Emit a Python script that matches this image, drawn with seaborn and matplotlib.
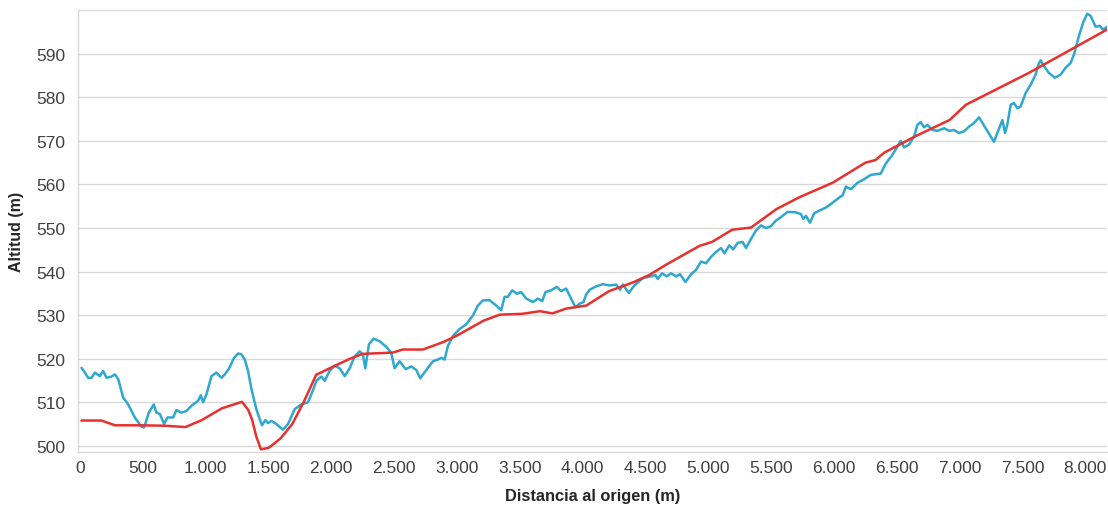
import matplotlib
matplotlib.use("Agg")
import matplotlib.pyplot as plt
import matplotlib.ticker as mticker
import seaborn as sns
import pandas as pd

# terreno (azul)
dist_terreno = [13, 40, 66, 93, 119, 159, 185, 212, 252, 278, 305, 344, 384, 437, 490, 511,
                548, 588, 609, 636, 670, 697, 742, 768, 808, 848, 888, 940, 962, 980, 1007,
                1047, 1086, 1126, 1153, 1184, 1227, 1259, 1285, 1312, 1338, 1365, 1404, 1431,
                1449, 1476, 1497, 1524, 1563, 1616, 1656, 1709, 1762, 1815, 1847, 1881, 1921,
                1948, 1987, 2027, 2067, 2107, 2147, 2186, 2226, 2252, 2271, 2300, 2337, 2385,
                2438, 2478, 2504, 2544, 2592, 2637, 2677, 2708, 2756, 2809, 2849, 2875, 2902,
                2928, 2968, 3021, 3074, 3127, 3167, 3207, 3260, 3313, 3352, 3379, 3405, 3440,
                3477, 3511, 3551, 3604, 3644, 3678, 3705, 3750, 3795, 3829, 3869, 3901, 3943,
                3975, 4007, 4028, 4055, 4107, 4161, 4214, 4267, 4298, 4320, 4367, 4412, 4479,
                4545, 4579, 4598, 4632, 4669, 4704, 4744, 4775, 4818, 4863, 4903, 4942, 4982,
                5022, 5062, 5101, 5128, 5167, 5199, 5234, 5273, 5300, 5340, 5379, 5419, 5459,
                5498, 5538, 5578, 5631, 5697, 5737, 5756, 5777, 5809, 5843, 5883, 5936, 5989,
                6042, 6069, 6095, 6135, 6188, 6240, 6293, 6372, 6412, 6465, 6505, 6531, 6558,
                6598, 6637, 6664, 6690, 6717, 6743, 6783, 6823, 6876, 6916, 6955, 6995, 7035,
                7075, 7114, 7154, 7207, 7247, 7273, 7300, 7340, 7361, 7379, 7406, 7432, 7459,
                7485, 7525, 7565, 7604, 7626, 7644, 7671, 7710, 7758, 7803, 7843, 7883, 7909,
                7949, 7983, 8015, 8042, 8082, 8113, 8140, 8175]
alt_terreno = [517.9, 516.8, 515.6, 515.6, 516.8, 516.0, 517.2, 515.6, 515.9, 516.4, 515.3,
               511.1, 509.5, 506.5, 504.4, 504.2, 507.6, 509.5, 507.6, 507.3, 505.0, 506.5,
               506.5, 508.2, 507.6, 508.0, 509.2, 510.3, 511.6, 510.0, 511.8, 516.0, 516.8,
               515.6, 516.4, 517.6, 520.2, 521.2, 521.0, 519.8, 517.2, 513.0, 508.4, 506.1,
               504.7, 505.9, 505.2, 505.7, 505.0, 503.7, 505.0, 508.4, 509.5, 510.0, 512.2,
               514.9, 515.9, 514.9, 517.2, 518.4, 517.8, 516.0, 517.8, 520.5, 521.7, 520.9,
               517.8, 523.3, 524.6, 524.0, 522.7, 521.3, 517.8, 519.4, 517.6, 518.2, 517.4,
               515.5, 517.4, 519.4, 519.8, 520.2, 519.8, 522.9, 525.2, 526.8, 527.9, 529.9,
               532.2, 533.4, 533.4, 532.2, 531.1, 534.2, 534.2, 535.7, 534.9, 535.3, 533.8,
               533.0, 533.8, 533.2, 535.3, 535.7, 536.5, 535.5, 536.1, 534.2, 531.8, 532.6,
               533.0, 534.7, 535.8, 536.6, 537.1, 536.8, 537.0, 535.8, 537.0, 535.1, 536.8,
               538.5, 538.9, 539.2, 538.3, 539.6, 538.9, 539.6, 538.9, 539.4, 537.6, 539.4,
               540.4, 542.3, 541.9, 543.4, 544.5, 545.4, 544.2, 546.0, 545.1, 546.6, 546.8,
               545.4, 547.5, 549.4, 550.6, 550.0, 550.4, 551.7, 552.5, 553.7, 553.6, 553.2,
               552.1, 552.8, 551.2, 553.4, 554.0, 554.7, 555.8, 557.0, 557.5, 559.5, 558.9,
               560.4, 561.2, 562.2, 562.5, 564.8, 566.8, 568.7, 570.0, 568.5, 569.2, 571.0,
               573.7, 574.3, 573.1, 573.7, 572.5, 572.3, 572.9, 572.3, 572.5, 571.8, 572.2,
               573.3, 574.1, 575.4, 572.9, 571.0, 569.8, 571.8, 574.8, 571.8, 573.7, 578.3,
               578.7, 577.5, 577.9, 581.0, 582.9, 585.2, 587.5, 588.5, 587.2, 585.6, 584.5,
               585.2, 586.8, 587.9, 589.8, 594.1, 597.2, 599.2, 598.7, 596.2, 596.4, 595.6,
               596.2]

# rasante (rojo)
dist_rasante = [13, 170, 280, 490, 680, 840, 970, 1130, 1290, 1340, 1370, 1405, 1440, 1500,
                1550, 1600, 1690, 1780, 1880, 2010, 2150, 2250, 2490, 2570, 2730, 2890, 3000,
                3210, 3340, 3520, 3660, 3760, 3870, 4030, 4210, 4400, 4530, 4660, 4930, 5030,
                5190, 5340, 5540, 5720, 5990, 6120, 6250, 6330, 6400, 6650, 6920, 7050, 7550,
                8175]
alt_rasante = [505.8, 505.8, 504.7, 504.7, 504.6, 504.3, 505.9, 508.6, 510.1, 508.2, 506.0,
               502.0, 499.2, 499.5, 500.6, 501.8, 505.0, 510.0, 516.3, 518.1, 520.0, 521.1,
               521.4, 522.1, 522.1, 523.8, 525.3, 528.7, 530.1, 530.3, 530.9, 530.4, 531.5,
               532.2, 535.5, 537.5, 539.2, 541.5, 545.9, 546.8, 549.6, 550.1, 554.3, 557.0,
               560.4, 562.7, 565.0, 565.6, 567.3, 571.1, 574.8, 578.3, 585.6, 595.6]

df_terreno = pd.DataFrame({'dist': dist_terreno, 'alt': alt_terreno})
df_rasante = pd.DataFrame({'dist': dist_rasante, 'alt': alt_rasante})

sns.set_style('white')
plt.rcParams['font.family'] = ['Liberation Sans', 'DejaVu Sans']

fig = plt.figure(figsize=(11.08, 5.10), dpi=100)
ax = fig.add_axes([0.0704, 0.112, 0.929, 0.866])

sns.lineplot(data=df_terreno, x='dist', y='alt', color='#2EA8CF', linewidth=1.8,
             sort=False, ax=ax)
sns.lineplot(data=df_rasante, x='dist', y='alt', color='#E8302E', linewidth=1.8,
             sort=False, ax=ax)

ax.set_xlim(-15, 8175)
ax.set_ylim(498.6, 600)
ax.set_xticks(range(0, 8001, 500))
ax.set_yticks(range(500, 591, 10))
ax.xaxis.set_major_formatter(mticker.FuncFormatter(lambda v, p: f'{int(v):,}'.replace(',', '.')))

ax.grid(axis='y', color='#D9D9D9', linewidth=1)
ax.axhline(600, color='#D9D9D9', linewidth=1)
ax.set_axisbelow(True)

for s in ['top', 'right']:
    ax.spines[s].set_visible(False)
for s in ['left', 'bottom']:
    ax.spines[s].set_color('#D9D9D9')
    ax.spines[s].set_linewidth(1)

ax.tick_params(axis='x', length=4, color='#D9D9D9', labelsize=12.5, labelcolor='#404040', pad=2)
ax.tick_params(axis='y', length=4, color='#D9D9D9', labelsize=12.5, labelcolor='#404040', pad=5)

ax.set_xlabel('Distancia al origen (m)', fontsize=11.8, fontweight='bold', labelpad=9)
ax.set_ylabel('Altitud (m)', fontsize=11.5, fontweight='bold', labelpad=9)

fig.savefig('out.png', dpi=100)
plt.close()
